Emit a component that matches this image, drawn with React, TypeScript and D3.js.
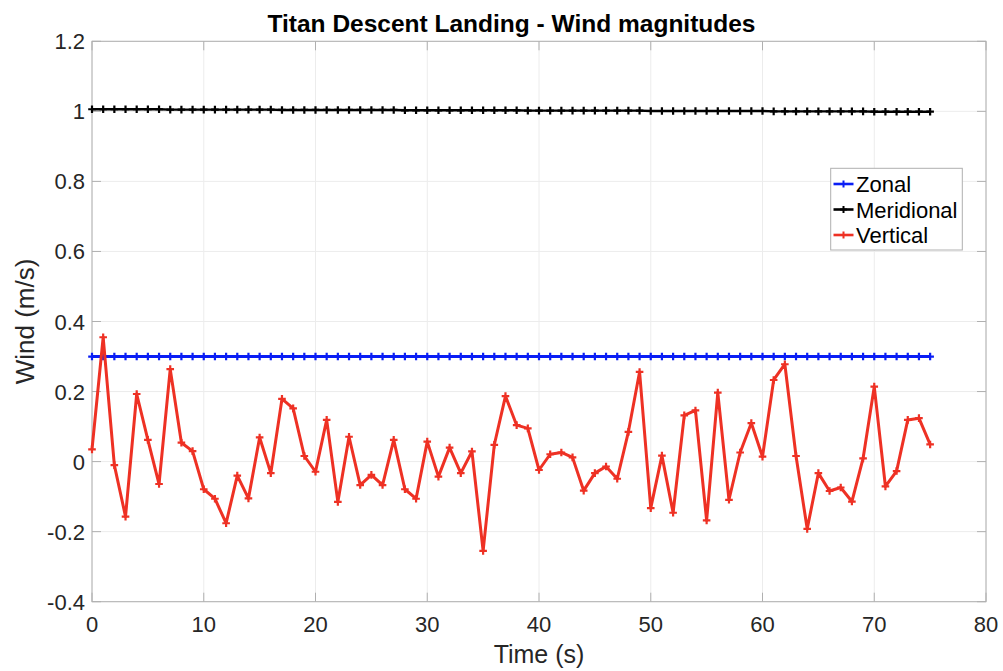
import React from "react";
import * as d3 from "d3";

const title = "Titan Descent Landing - Wind magnitudes";
const xLabel = "Time (s)";
const yLabel = "Wind (m/s)";
const xTicks = [0, 10, 20, 30, 40, 50, 60, 70, 80];
const yTicks = [-0.4, -0.2, 0, 0.2, 0.4, 0.6, 0.8, 1, 1.2];
const yTickLabels = ["-0.4", "-0.2", "0", "0.2", "0.4", "0.6", "0.8", "1", "1.2"];

const time = [
  0, 1, 2, 3, 4, 5, 6, 7, 8, 9, 10, 11, 12, 13, 14, 15, 16, 17, 18, 19,
  20, 21, 22, 23, 24, 25, 26, 27, 28, 29, 30, 31, 32, 33, 34, 35, 36, 37, 38, 39,
  40, 41, 42, 43, 44, 45, 46, 47, 48, 49, 50, 51, 52, 53, 54, 55, 56, 57, 58, 59,
  60, 61, 62, 63, 64, 65, 66, 67, 68, 69, 70, 71, 72, 73, 74, 75,
];

const zonal = [
  0.3, 0.3, 0.3, 0.3, 0.3, 0.3, 0.3, 0.3, 0.3, 0.3, 0.3, 0.3, 0.3, 0.3, 0.3, 0.3, 0.3, 0.3, 0.3, 0.3,
  0.3, 0.3, 0.3, 0.3, 0.3, 0.3, 0.3, 0.3, 0.3, 0.3, 0.3, 0.3, 0.3, 0.3, 0.3, 0.3, 0.3, 0.3, 0.3, 0.3,
  0.3, 0.3, 0.3, 0.3, 0.3, 0.3, 0.3, 0.3, 0.3, 0.3, 0.3, 0.3, 0.3, 0.3, 0.3, 0.3, 0.3, 0.3, 0.3, 0.3,
  0.3, 0.3, 0.3, 0.3, 0.3, 0.3, 0.3, 0.3, 0.3, 0.3, 0.3, 0.3, 0.3, 0.3, 0.3, 0.3,
];

const meridional = [
  1.006, 1.006, 1.006, 1.006, 1.006, 1.006, 1.006, 1.005, 1.005, 1.005, 1.005, 1.005, 1.005, 1.005, 1.005, 1.005, 1.005, 1.004, 1.004, 1.004,
  1.004, 1.004, 1.004, 1.004, 1.004, 1.004, 1.004, 1.004, 1.003, 1.003, 1.003, 1.003, 1.003, 1.003, 1.003, 1.003, 1.003, 1.003, 1.003, 1.002,
  1.002, 1.002, 1.002, 1.002, 1.002, 1.002, 1.002, 1.002, 1.002, 1.002, 1.001, 1.001, 1.001, 1.001, 1.001, 1.001, 1.001, 1.001, 1.001, 1.001,
  1.001, 1.000, 1.000, 1.000, 1.000, 1.000, 1.000, 1.000, 1.000, 1.000, 0.999, 0.999, 0.999, 0.999, 0.999, 0.999,
];

const vertical = [
  0.035, 0.355, -0.01, -0.157, 0.193, 0.062, -0.064, 0.264, 0.054, 0.03,
  -0.079, -0.106, -0.176, -0.04, -0.105, 0.069, -0.033, 0.179, 0.152, 0.016,
  -0.029, 0.119, -0.115, 0.071, -0.067, -0.038, -0.067, 0.062, -0.079, -0.106,
  0.057, -0.043, 0.04, -0.033, 0.029, -0.255, 0.048, 0.187, 0.104, 0.095,
  -0.024, 0.021, 0.026, 0.012, -0.083, -0.033, -0.014, -0.049, 0.085, 0.256,
  -0.133, 0.017, -0.146, 0.132, 0.146, -0.168, 0.197, -0.109, 0.026, 0.11,
  0.014, 0.233, 0.278, 0.016, -0.192, -0.033, -0.084, -0.074, -0.114, 0.009,
  0.214, -0.071, -0.027, 0.119, 0.124, 0.049,
];

const seriesNames = ["Zonal", "Meridional", "Vertical"];
const seriesColors = ["#0a1ef5", "#000000", "#ee3124"];
const seriesWidths = [3, 2.4, 3];

export default function App() {
  const W = 1003;
  const H = 671;
  const left = 92;
  const right = 986;
  const top = 41.3;
  const bottom = 601.7;

  const x = d3.scaleLinear().domain([0, 80]).range([left, right]);
  const y = d3.scaleLinear().domain([-0.4, 1.2]).range([bottom, top]);

  const allSeries = [zonal, meridional, vertical];
  const line = d3
    .line<number>()
    .x((_, i) => x(time[i]))
    .y((d) => y(d));

  const font = "'Liberation Sans', Arial, Helvetica, sans-serif";
  const tickColor = "#262626";
  const axisColor = "#b0b0b0";
  const gridColor = "#ececec";
  const tickLen = 9;

  const plus = (cx: number, cy: number, s: number, color: string, key: string, sw: number) => (
    <path
      key={key}
      d={`M${cx - s},${cy}H${cx + s}M${cx},${cy - s}V${cy + s}`}
      stroke={color}
      strokeWidth={sw}
      fill="none"
    />
  );

  // legend geometry
  const lgX = 830.7;
  const lgY = 168.3;
  const lgW = 131.6;
  const lgH = 81.7;
  const rowY = [184, 209.5, 235];

  return (
    <svg
      width={W}
      height={H}
      style={{ position: "absolute", left: 0, top: 0, background: "#fff" }}
      fontFamily={font}
    >
      <rect x={0} y={0} width={W} height={H} fill="#fff" />
      {/* grid */}
      {xTicks.map((t) => (
        <line key={"gx" + t} x1={x(t)} x2={x(t)} y1={top} y2={bottom} stroke={gridColor} strokeWidth={1} />
      ))}
      {yTicks.map((t) => (
        <line key={"gy" + t} x1={left} x2={right} y1={y(t)} y2={y(t)} stroke={gridColor} strokeWidth={1} />
      ))}
      {/* axes box */}
      <rect x={left} y={top} width={right - left} height={bottom - top} fill="none" stroke={axisColor} strokeWidth={1} />
      {/* ticks */}
      {xTicks.map((t) => (
        <g key={"tx" + t}>
          <line x1={x(t)} x2={x(t)} y1={bottom} y2={bottom - tickLen} stroke={axisColor} />
          <line x1={x(t)} x2={x(t)} y1={top} y2={top + tickLen} stroke={axisColor} />
          <text x={x(t)} y={631.5} textAnchor="middle" fontSize={22} fill={tickColor}>
            {t}
          </text>
        </g>
      ))}
      {yTicks.map((t, i) => (
        <g key={"ty" + t}>
          <line x1={left} x2={left + tickLen} y1={y(t)} y2={y(t)} stroke={axisColor} />
          <line x1={right} x2={right - tickLen} y1={y(t)} y2={y(t)} stroke={axisColor} />
          <text x={left - 7} y={y(t) + 8} textAnchor="end" fontSize={22} fill={tickColor}>
            {yTickLabels[i]}
          </text>
        </g>
      ))}
      {/* series */}
      {allSeries.map((s, si) => (
        <g key={"s" + si}>
          <path d={line(s) || ""} fill="none" stroke={seriesColors[si]} strokeWidth={seriesWidths[si]} strokeLinejoin="round" />
          {s.map((v, i) => plus(x(time[i]), y(v), 3.8, seriesColors[si], `m${si}-${i}`, 2.2))}
        </g>
      ))}
      {/* labels */}
      <text x={511.5} y={31.7} textAnchor="middle" fontSize={24.5} fontWeight="bold" fill="#000">
        {title}
      </text>
      <text x={(left + right) / 2} y={663} textAnchor="middle" fontSize={25} fill={tickColor}>
        {xLabel}
      </text>
      <text
        transform={`translate(34,${(top + bottom) / 2}) rotate(-90)`}
        textAnchor="middle"
        fontSize={26}
        fill={tickColor}
      >
        {yLabel}
      </text>
      {/* legend */}
      <rect x={lgX} y={lgY} width={lgW} height={lgH} fill="#fff" stroke="#b0b0b0" strokeWidth={1} />
      {seriesNames.map((n, i) => (
        <g key={"lg" + n}>
          <line x1={833.5} x2={853.5} y1={rowY[i]} y2={rowY[i]} stroke={seriesColors[i]} strokeWidth={2.6} />
          {plus(843.5, rowY[i], 3.5, seriesColors[i], "lgm" + i, 2)}
          <text x={856} y={rowY[i] + 8} fontSize={22} fill="#000">
            {n}
          </text>
        </g>
      ))}
    </svg>
  );
}
